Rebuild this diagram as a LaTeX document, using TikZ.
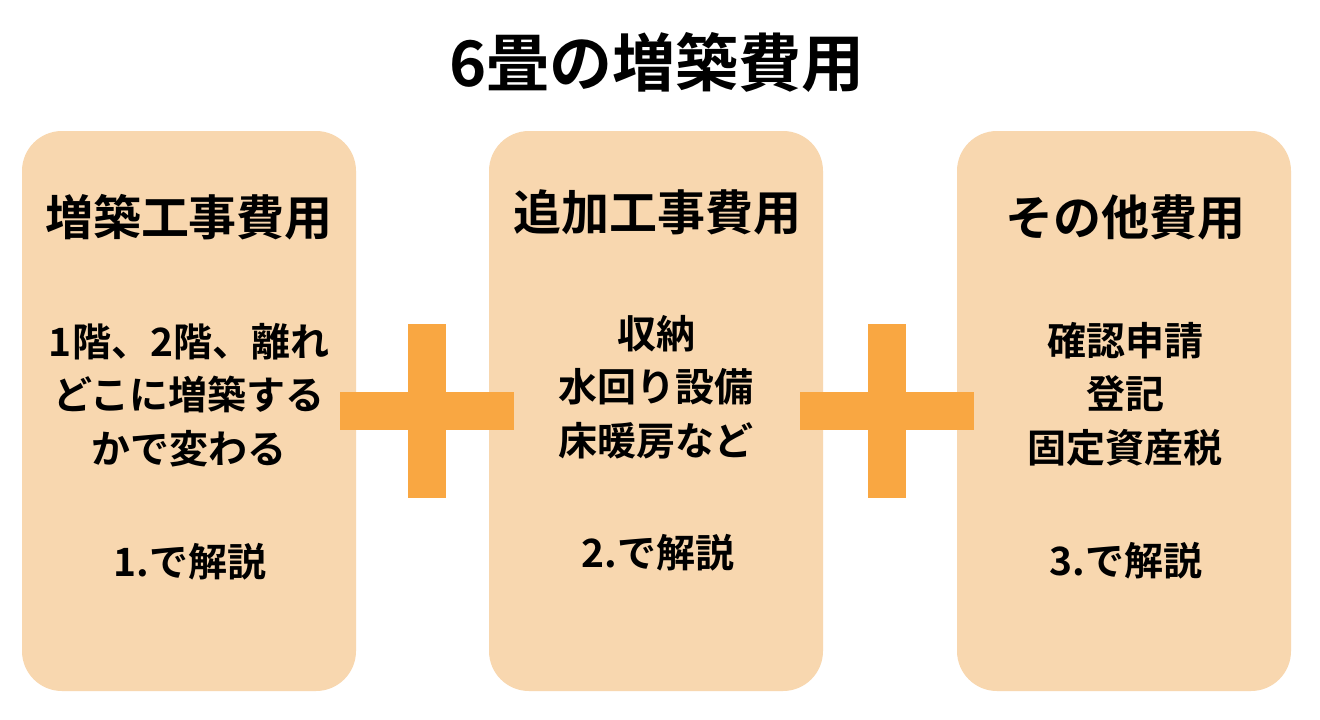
\documentclass[tikz,border=0pt]{standalone}
\usepackage{fontspec}
\setmainfont{Noto Sans CJK JP Bold}
\definecolor{boxfill}{HTML}{F8D7AF}
\definecolor{plusc}{HTML}{F9A742}
\begin{document}
\begin{tikzpicture}[x=1pt,y=-1pt,
  card/.style={fill=boxfill, rounded corners=40pt, minimum width=334pt, minimum height=560pt, inner sep=0pt},
  head/.style={font=\fontsize{48}{56}\selectfont, inner sep=0pt, anchor=center},
  body/.style={font=\fontsize{39}{53.5}\selectfont, inner sep=0pt, align=center, anchor=north},
  note/.style={font=\fontsize{39}{50}\selectfont, inner sep=0pt, anchor=center}]
\useasboundingbox (0,0) rectangle (1320,720);
\fill[white] (0,0) rectangle (1320,720);
\node[font=\fontsize{63}{72}\selectfont, inner sep=0pt] (title) at (657,62) {6畳の増築費用};
% cards
\node[card] (c1) at (189,411) {};
\node[card] (c2) at (656,411) {};
\node[card] (c3) at (1124,411) {};
% plus signs
\fill[plusc] (408,324) rectangle (446,498);
\fill[plusc] (340,392) rectangle (514,430);
\fill[plusc] (868,324) rectangle (906,498);
\fill[plusc] (800,392) rectangle (974,430);
% headings
\node[head] (h1) at (189,217) {増築工事費用};
\node[head] (h2) at (657,212) {追加工事費用};
\node[head] (h3) at (1125,217) {その他費用};
% bodies
\node[body] (b1) at (189,323) {1階、2階、離れ\\どこに増築する\\かで変わる};
\node[body] (b2) at (656,315) {収納\\水回り設備\\床暖房など};
\node[body] (b3) at (1125,322) {確認申請\\登記\\固定資産税};
% notes
\node[note] (n1) at (190,562) {1.で解説};
\node[note] (n2) at (658,553) {2.で解説};
\node[note] (n3) at (1126,561) {3.で解説};
\end{tikzpicture}
\end{document}
